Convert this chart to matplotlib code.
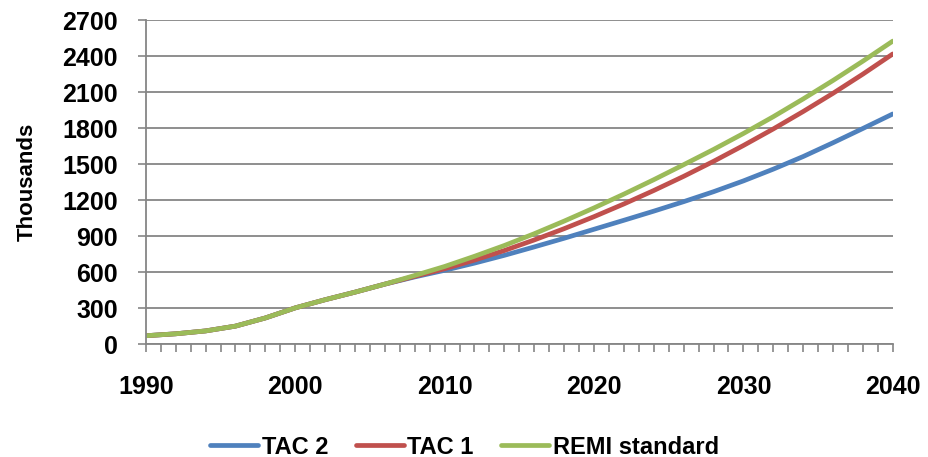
import matplotlib
matplotlib.use("Agg")
import matplotlib.pyplot as plt
from matplotlib.ticker import MultipleLocator

plt.rcParams['font.family'] = ['Liberation Sans', 'DejaVu Sans']
plt.rcParams['font.weight'] = 'bold'

years = [1990, 1992, 1994, 1996, 1998, 2000, 2002, 2004, 2006, 2008,
         2010, 2012, 2014, 2016, 2018, 2020, 2022, 2024, 2026, 2028,
         2030, 2032, 2034, 2036, 2038, 2040]

# values in thousands
tac2 = [70, 86, 110, 150, 218, 302, 370, 433, 500, 560,
        615, 675, 740, 810, 882, 957, 1032, 1108, 1187, 1270,
        1360, 1458, 1563, 1678, 1797, 1918]
tac1 = [70, 86, 110, 150, 218, 302, 370, 433, 500, 565,
        628, 700, 780, 868, 962, 1062, 1168, 1280, 1398, 1523,
        1655, 1793, 1938, 2090, 2250, 2418]
remi = [70, 86, 110, 150, 218, 302, 370, 433, 500, 572,
        647, 732, 822, 920, 1025, 1135, 1250, 1370, 1495, 1622,
        1755, 1895, 2043, 2197, 2358, 2525]

series_names = ['TAC 2', 'TAC 1', 'REMI standard']
colors = ['#4F81BD', '#C0504D', '#9BBB59']

fig = plt.figure(figsize=(9.29, 4.57), dpi=100)
ax = fig.add_axes([0.157, 0.247, 0.804, 0.709])

for vals, name, c in zip([tac2, tac1, remi], series_names, colors):
    ax.plot(years, vals, color=c, lw=3.4, label=name, solid_capstyle='round')

ax.set_xlim(1990, 2040)
ax.set_ylim(0, 2700)
ax.yaxis.set_major_locator(MultipleLocator(300))
ax.xaxis.set_major_locator(MultipleLocator(10))
ax.xaxis.set_minor_locator(MultipleLocator(1))

grid_c = '#868686'
ax.grid(axis='y', color=grid_c, lw=1.3)
ax.set_axisbelow(True)
for s in ['top', 'right']:
    ax.spines[s].set_visible(False)
for s in ['left', 'bottom']:
    ax.spines[s].set_color(grid_c)
    ax.spines[s].set_linewidth(1.3)

ax.tick_params(axis='x', which='both', direction='out', length=6, width=1.2,
               color=grid_c, pad=16, labelsize=18)
ax.tick_params(axis='y', direction='out', length=6, width=1.2,
               color=grid_c, pad=14, labelsize=18)

ax.set_ylabel('Thousands', fontsize=16, fontweight='bold', labelpad=18)

fig.legend(loc='lower center', ncol=3, frameon=False, fontsize=17,
           bbox_to_anchor=(0.5, -0.05), handlelength=2.05, handletextpad=0.15,
           columnspacing=1.15)

fig.savefig('out.png', dpi=100)
